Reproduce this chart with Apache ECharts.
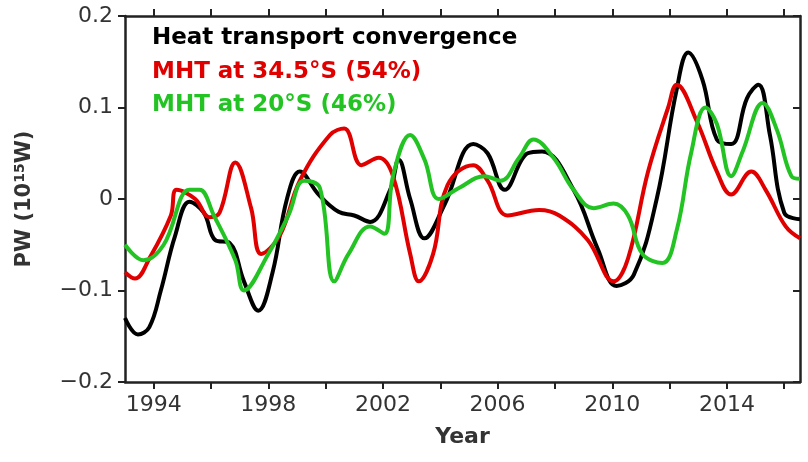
<!DOCTYPE html>
<html>
<head>
<meta charset="UTF-8">
<script src="https://cdn.jsdelivr.net/npm/echarts@6/dist/echarts.min.js"></script>
<style>body{margin:0;background:#fff}#c{width:808px;height:462px}</style>
</head>
<body>
<div id="c"></div>
<script>
// 热量输送辐合（黑线）
var blackYears = [1993.0,1993.45,1993.85,1994.25,1994.75,1995.25,1995.75,1996.15,1996.65,1997.15,1997.65,1998.15,1998.65,1999.1,1999.75,2000.45,2001.0,2001.55,2002.25,2002.55,2002.95,2003.45,2004.15,2005.15,2005.65,2006.25,2007.05,2007.55,2008.65,2009.5,2010.15,2010.75,2011.55,2012.25,2012.65,2013.15,2013.65,2014.15,2014.7,2015.1,2015.5,2016.0,2016.55];
var blackValues = [-0.13,-0.148,-0.14,-0.10,-0.04,-0.003,-0.015,-0.045,-0.048,-0.09,-0.122,-0.08,0.0,0.03,0.005,-0.014,-0.018,-0.025,0.01,0.043,0.0,-0.043,-0.006,0.06,0.05,0.01,0.05,0.052,0.01,-0.055,-0.095,-0.083,0.0,0.12,0.16,0.13,0.065,0.06,0.11,0.125,0.07,-0.015,-0.022];
// 34.5°S 经向热输送（红线）
var redYears = [1993.0,1993.35,1993.85,1994.6,1994.8,1995.45,1995.95,1996.3,1996.85,1997.4,1997.75,1998.4,1999.1,2000.15,2000.65,2001.25,2001.85,2002.35,2002.95,2003.25,2003.75,2004.25,2005.15,2005.65,2006.35,2007.45,2008.15,2009.15,2010.05,2010.55,2011.25,2011.95,2012.25,2012.95,2013.65,2014.15,2014.85,2015.35,2016.05,2016.55];
var redValues = [-0.08,-0.087,-0.065,-0.018,0.01,0.0,-0.02,-0.015,0.04,-0.01,-0.06,-0.04,0.02,0.07,0.077,0.037,0.045,0.025,-0.06,-0.09,-0.06,0.015,0.037,0.02,-0.018,-0.012,-0.018,-0.045,-0.09,-0.065,0.03,0.1,0.125,0.085,0.03,0.005,0.03,0.01,-0.03,-0.043];
// 20°S 经向热输送（绿线）
var greenYears = [1993.0,1993.65,1994.35,1995.25,1995.6,1996.1,1996.85,1997.15,1998.0,1998.7,1999.25,1999.8,2000.3,2000.8,2001.55,2002.05,2002.35,2002.95,2003.45,2003.95,2004.65,2005.55,2006.1,2006.75,2007.25,2007.95,2008.65,2009.35,2010.05,2010.55,2011.05,2011.75,2012.25,2012.75,2013.25,2013.65,2014.15,2014.55,2015.25,2015.75,2016.25,2016.55];
var greenValues = [-0.05,-0.067,-0.05,0.01,0.01,-0.018,-0.067,-0.1,-0.06,-0.018,0.02,0.012,-0.09,-0.06,-0.03,-0.038,0.025,0.07,0.043,0.0,0.012,0.025,0.02,0.045,0.065,0.045,0.01,-0.01,-0.005,-0.018,-0.06,-0.07,-0.034,0.05,0.1,0.082,0.025,0.052,0.105,0.075,0.025,0.022];
var yearTicks = [1994,1996,1998,2000,2002,2004,2006,2008,2010,2012,2014,2016];
var yearLabels = [1994,1998,2002,2006,2010,2014];

function pairs(xs, ys) {
    var out = [];
    for (var i = 0; i < xs.length; i++) out.push([xs[i], ys[i]]);
    return out;
}
function line(name, color, xs, ys) {
    return {
        name: name, type: 'line', smooth: 0.4, showSymbol: false,
        lineStyle: {color: color, width: 4}, data: pairs(xs, ys)
    };
}

var chart = echarts.init(document.getElementById('c'));
var font = '"DejaVu Sans", sans-serif';
var axisCol = '#222';
var tick = {inside: false, length: 7, lineStyle: {color: axisCol, width: 2}};
var tickIn = {inside: true, length: 7, lineStyle: {color: axisCol, width: 2}};
chart.setOption({
    animation: false,
    grid: {left: 125, right: 8, top: 16, bottom: 80},
    xAxis: [{
        type: 'value', min: 1993.0, max: 2016.55,
        name: 'Year', nameLocation: 'middle', nameGap: 44,
        nameTextStyle: {fontSize: 22, fontWeight: 'bold', color: '#333', fontFamily: font},
        axisLine: {onZero: false, lineStyle: {color: axisCol, width: 2.5}},
        axisTick: Object.assign({customValues: yearTicks}, tick),
        axisLabel: {fontSize: 22, color: '#333', fontFamily: font, margin: 12, customValues: yearLabels,
            formatter: function (v) { return String(v); }},
        splitLine: {show: false}
    }, {
        type: 'value', min: 1993.0, max: 2016.55, position: 'top',
        axisLine: {onZero: false, lineStyle: {color: axisCol, width: 2.5}},
        axisTick: Object.assign({customValues: yearTicks}, tick),
        axisLabel: {show: false}, splitLine: {show: false}
    }],
    yAxis: [{
        type: 'value', min: -0.2, max: 0.2, interval: 0.1,
        name: '{a|PW (10}{s|15}{a|W)}', nameLocation: 'middle', nameGap: 88,
        nameTextStyle: {rich: {
            a: {fontSize: 21, fontWeight: 'bold', color: '#333', fontFamily: font},
            s: {fontSize: 14, fontWeight: 'bold', color: '#333', fontFamily: font, verticalAlign: 'bottom', padding: [0, 0, 10, 0]}
        }},
        axisLine: {onZero: false, lineStyle: {color: axisCol, width: 2.5}},
        axisTick: tick,
        axisLabel: {fontSize: 22, color: '#333', fontFamily: font, margin: 12,
            formatter: function (v) { return v === 0 ? '0' : (v < 0 ? '\u2212' + (-v).toFixed(1) : v.toFixed(1)); }},
        splitLine: {show: false}
    }, {
        type: 'value', min: -0.2, max: 0.2, interval: 0.1, position: 'right',
        axisLine: {onZero: false, lineStyle: {color: axisCol, width: 2.5}},
        axisTick: tickIn, axisLabel: {show: false}, splitLine: {show: false}
    }],
    graphic: [
        {type: 'text', left: 152, top: 27, style: {text: 'Heat transport convergence', fill: '#000', font: 'bold 23px ' + font}},
        {type: 'text', left: 152, top: 61, style: {text: 'MHT at 34.5°S (54%)', fill: '#e00000', font: 'bold 23px ' + font}},
        {type: 'text', left: 152, top: 94, style: {text: 'MHT at 20°S (46%)', fill: '#22c322', font: 'bold 23px ' + font}}
    ],
    series: [
        line('Heat transport convergence', '#000000', blackYears, blackValues),
        line('MHT at 34.5°S', '#e00000', redYears, redValues),
        line('MHT at 20°S', '#22c322', greenYears, greenValues)
    ]
});
</script>
</body>
</html>
